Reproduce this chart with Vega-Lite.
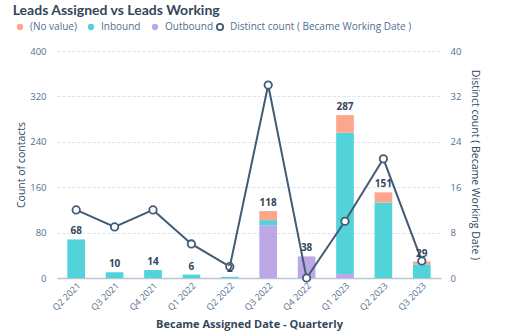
{
  "$schema": "https://vega.github.io/schema/vega-lite/v6.json",
  "width": 508,
  "height": 336,
  "autosize": {"type": "fit", "contains": "padding"},
  "padding": {"left": 12, "right": 28, "top": 4, "bottom": 6},
  "background": "white",
  "config": {
    "font": "Open Sans",
    "view": {"stroke": null},
    "axis": {"labelColor": "#516f90", "titleColor": "#33475b", "labelFont": "Open Sans", "titleFont": "Open Sans"}
  },
  "title": {
    "text": "Leads Assigned vs Leads Working",
    "anchor": "start",
    "frame": "bounds",
    "font": "Lato",
    "fontSize": 14,
    "fontWeight": "bold",
    "color": "#33475b",
    "offset": 28,
    "dx": -4
  },
  "datasets": {
    "bars": [
      {"quarter": "Q2 2021", "type": "Inbound", "count": 68},
      {"quarter": "Q3 2021", "type": "Inbound", "count": 10},
      {"quarter": "Q4 2021", "type": "Inbound", "count": 14},
      {"quarter": "Q1 2022", "type": "Inbound", "count": 6},
      {"quarter": "Q2 2022", "type": "Inbound", "count": 2},
      {"quarter": "Q3 2022", "type": "Outbound", "count": 93},
      {"quarter": "Q3 2022", "type": "Inbound", "count": 9},
      {"quarter": "Q3 2022", "type": "(No value)", "count": 16},
      {"quarter": "Q4 2022", "type": "Outbound", "count": 38},
      {"quarter": "Q1 2023", "type": "Outbound", "count": 7},
      {"quarter": "Q1 2023", "type": "Inbound", "count": 249},
      {"quarter": "Q1 2023", "type": "(No value)", "count": 31},
      {"quarter": "Q2 2023", "type": "Inbound", "count": 133},
      {"quarter": "Q2 2023", "type": "(No value)", "count": 18},
      {"quarter": "Q3 2023", "type": "Inbound", "count": 24},
      {"quarter": "Q3 2023", "type": "(No value)", "count": 5}
    ],
    "line": [
      {"quarter": "Q2 2021", "series": "Distinct count ( Became Working Date )", "distinct": 12},
      {"quarter": "Q3 2021", "series": "Distinct count ( Became Working Date )", "distinct": 9},
      {"quarter": "Q4 2021", "series": "Distinct count ( Became Working Date )", "distinct": 12},
      {"quarter": "Q1 2022", "series": "Distinct count ( Became Working Date )", "distinct": 6},
      {"quarter": "Q2 2022", "series": "Distinct count ( Became Working Date )", "distinct": 2},
      {"quarter": "Q3 2022", "series": "Distinct count ( Became Working Date )", "distinct": 34},
      {"quarter": "Q4 2022", "series": "Distinct count ( Became Working Date )", "distinct": 0},
      {"quarter": "Q1 2023", "series": "Distinct count ( Became Working Date )", "distinct": 10},
      {"quarter": "Q2 2023", "series": "Distinct count ( Became Working Date )", "distinct": 21},
      {"quarter": "Q3 2023", "series": "Distinct count ( Became Working Date )", "distinct": 3}
    ]
  },
  "encoding": {
    "x": {
      "field": "quarter",
      "type": "nominal",
      "sort": ["Q2 2021","Q3 2021","Q4 2021","Q1 2022","Q2 2022","Q3 2022","Q4 2022","Q1 2023","Q2 2023","Q3 2023"],
      "scale": {"paddingInner": 0.54, "paddingOuter": 0.27},
      "axis": {
        "title": "Became Assigned Date - Quarterly",
        "titleFontWeight": "bold",
        "titleFontSize": 11,
        "titlePadding": 6,
        "labelAngle": -45,
        "labelFontSize": 9,
        "labelPadding": 3,
        "ticks": false,
        "domainColor": "#b9c6d6",
        "domainWidth": 1.5
      }
    }
  },
  "layer": [
    {
      "data": {"name": "bars"},
      "mark": {"type": "bar"},
      "encoding": {
        "y": {
          "field": "count",
          "type": "quantitative",
          "aggregate": "sum",
          "stack": "zero",
          "scale": {"domain": [0, 400]},
          "axis": {
            "title": "Count of contacts",
            "titleFontWeight": "normal",
            "titleFontSize": 10.5,
            "titlePadding": 3,
            "values": [0, 80, 160, 240, 320, 400],
            "labelFontSize": 9.5,
            "labelPadding": 11,
            "ticks": false,
            "domain": false,
            "gridColor": "#d9e2ee",
            "gridDash": [3, 2]
          }
        },
        "color": {
          "field": "type",
          "type": "nominal",
          "scale": {
            "domain": ["(No value)", "Inbound", "Outbound"],
            "range": ["#fea58e", "#51d3d9", "#bea7e5"]
          },
          "legend": {
            "title": null,
            "orient": "none",
            "legendX": -42,
            "legendY": -29,
            "direction": "horizontal",
            "symbolType": "circle",
            "symbolSize": 40,
            "labelFontSize": 10,
            "labelColor": "#516f90",
            "columnPadding": 9,
            "labelOffset": 5,
            "labelLimit": 300
          }
        },
        "order": {"field": "type", "sort": "descending"}
      }
    },
    {
      "layer": [
        {
          "data": {"name": "line"},
          "mark": {"type": "line", "strokeWidth": 2},
          "encoding": {
            "y": {
              "field": "distinct",
              "type": "quantitative",
              "scale": {"domain": [0, 40]},
              "axis": {
                "orient": "right",
                "title": "Distinct count ( Became Working Date )",
                "titleFontWeight": "normal",
                "titleFontSize": 10.5,
                "titleAngle": 90,
                "titlePadding": 9,
                "values": [0, 8, 16, 24, 32, 40],
                "labelFontSize": 9.5,
                "labelPadding": 9,
                "ticks": false,
                "domain": false,
                "grid": false
              }
            },
            "stroke": {
              "field": "series",
              "type": "nominal",
              "scale": {"range": ["#425b76"]},
              "legend": {
                "title": null,
                "orient": "none",
                "legendX": 158,
                "legendY": -29,
                "symbolType": "circle",
                "symbolSize": 40,
                "symbolFillColor": "white",
                "symbolStrokeWidth": 1.8,
                "labelFontSize": 10,
                "labelColor": "#516f90",
                "labelOffset": 5,
                "labelLimit": 300
              }
            }
          }
        },
        {
          "data": {"name": "line"},
          "mark": {"type": "point", "filled": false, "fill": "white", "fillOpacity": 1, "size": 55, "strokeWidth": 1.8, "opacity": 1},
          "encoding": {
            "y": {"field": "distinct", "type": "quantitative", "scale": {"domain": [0, 40]}},
            "stroke": {"field": "series", "type": "nominal"}
          }
        }
      ]
    },
    {
      "data": {"name": "bars"},
      "transform": [
        {"aggregate": [{"op": "sum", "field": "count", "as": "total"}], "groupby": ["quarter"]}
      ],
      "mark": {"type": "text", "dy": -8, "fontSize": 10, "fontWeight": "bold", "color": "#33475b"},
      "encoding": {
        "y": {"field": "total", "type": "quantitative", "scale": {"domain": [0, 400]}, "axis": null},
        "text": {"field": "total", "type": "quantitative"}
      }
    }
  ],
  "resolve": {"scale": {"y": "independent"}}
}
